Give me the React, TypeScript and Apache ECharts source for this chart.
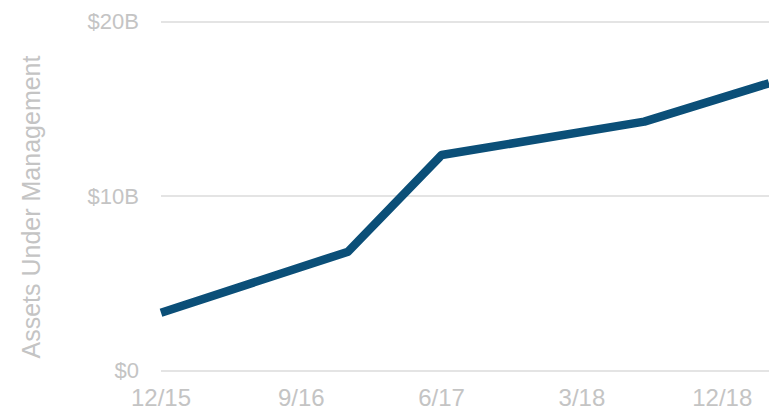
import React, { useEffect, useRef } from "react";
import * as echarts from "echarts";

// Monthly categories from 12/15 to 3/19
const months: string[] = [
  "12/15", "1/16", "2/16", "3/16", "4/16", "5/16", "6/16", "7/16", "8/16", "9/16",
  "10/16", "11/16", "12/16", "1/17", "2/17", "3/17", "4/17", "5/17", "6/17", "7/17",
  "8/17", "9/17", "10/17", "11/17", "12/17", "1/18", "2/18", "3/18", "4/18", "5/18",
  "6/18", "7/18", "8/18", "9/18", "10/18", "11/18", "12/18", "1/19", "2/19", "3/19",
];

// Assets under management in $B (only reported points; straight lines between)
const aumPoints: { month: string; value: number }[] = [
  { month: "12/15", value: 3.31 },
  { month: "12/16", value: 6.81 },
  { month: "6/17", value: 12.35 },
  { month: "7/18", value: 14.26 },
  { month: "3/19", value: 16.46 },
];

const yTicks: number[] = [0, 10, 20];
const yTickLabels: string[] = ["$0", "$10B", "$20B"];
const yAxisName = "Assets Under Management";

const FONT = "'Liberation Sans', Arial, Helvetica, sans-serif";
const LABEL_COLOR = "#c4c4c4";

export default function App() {
  const ref = useRef<HTMLDivElement>(null);

  useEffect(() => {
    document.body.style.margin = "0";
    if (!ref.current) return;
    const chart = echarts.init(ref.current, undefined, { renderer: "svg" });

    const seriesData = months.map((m) => {
      const p = aumPoints.find((d) => d.month === m);
      return p ? p.value : null;
    });

    chart.setOption({
      animation: false,
      backgroundColor: "#ffffff",
      grid: { left: 161, right: -6, top: 21.5, bottom: 39.5, containLabel: false },
      graphic: [
        {
          type: "text",
          x: 31,
          y: 207,
          rotation: Math.PI / 2,
          style: {
            text: yAxisName,
            fill: LABEL_COLOR,
            fontSize: 25,
            fontFamily: FONT,
            align: "center",
            verticalAlign: "middle",
          },
        },
      ],
      xAxis: {
        type: "category",
        data: months,
        boundaryGap: false,
        axisLine: { show: false },
        axisTick: { show: false },
        splitLine: { show: false },
        axisLabel: {
          interval: 8,
          color: LABEL_COLOR,
          fontSize: 24,
          fontFamily: FONT,
          margin: 15,
        },
      },
      yAxis: {
        type: "value",
        min: 0,
        max: 20,
        interval: 10,
        axisLine: { show: false },
        axisTick: { show: false },
        splitLine: { show: true, lineStyle: { color: "#e4e4e4", width: 2 } },
        axisLabel: {
          color: LABEL_COLOR,
          fontSize: 22,
          fontFamily: FONT,
          margin: 22,
          formatter: (v: number) => {
            const i = yTicks.indexOf(v);
            return i >= 0 ? yTickLabels[i] : "";
          },
        },
      },
      series: [
        {
          type: "line",
          data: seriesData,
          connectNulls: true,
          showSymbol: false,
          symbol: "none",
          lineStyle: { color: "#0b4f78", width: 8.5, join: "round" },
          itemStyle: { color: "#0b4f78" },
        },
      ],
    });

    return () => {
      chart.dispose();
    };
  }, []);

  return (
    <div
      ref={ref}
      style={{ position: "absolute", left: 0, top: 0, width: 769, height: 410 }}
    />
  );
}
